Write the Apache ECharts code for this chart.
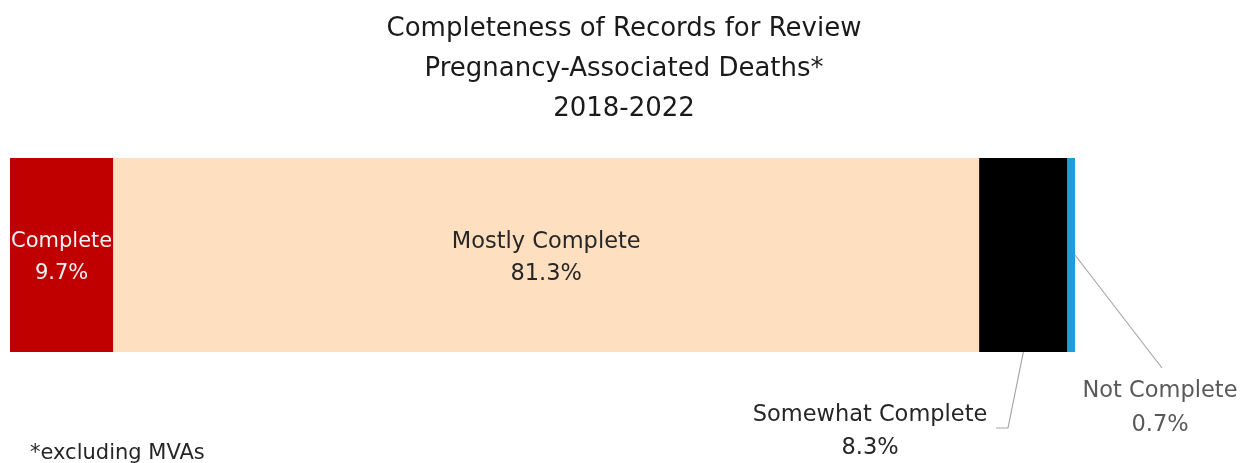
<!DOCTYPE html>
<html>
<head>
<meta charset="utf-8">
<script src="https://cdn.jsdelivr.net/npm/echarts@6/dist/echarts.min.js"></script>
<style>
	html, body { margin: 0; padding: 0; background: #fff; }
	#chart { width: 1248px; height: 463px; }
</style>
</head>
<body>
<div id="chart"></div>
<script>
	// data
	const titleLines = ['Completeness of Records for Review', 'Pregnancy-Associated Deaths*', '2018-2022'];
	const categories = ['Complete', 'Mostly Complete', 'Somewhat Complete', 'Not Complete'];
	const percents = [9.7, 81.3, 8.3, 0.7];
	const footnote = '*excluding MVAs';

	const FONT = '"DejaVu Sans", sans-serif';
	const fillColors = ['#C00000', '#FEDFC0', '#000000', '#1A9FDB'];
	const labelColors = ['#F2F2F2', '#262626', '#262626', '#595959'];
	const labelSizes = [21, 22.5, 22.5, 22.5];

	// labels that sit outside the bar; guide line ends near the label
	const outside = {
		2: { x: 870, y: 432, lineHeight: 33, ends: [[1008, 428], [996, 428]], from: r => [r.x + r.width / 2, r.y + r.height] },
		3: { x: 1160, y: 408, lineHeight: 34, ends: [[1162, 368]], from: r => [r.x + r.width, r.y + r.height / 2] }
	};

	const chart = echarts.init(document.getElementById('chart'));

	chart.setOption({
		animation: false,
		title: {
			text: titleLines.join('\n'),
			left: 'center',
			top: 4,
			textStyle: { fontFamily: FONT, fontSize: 26, fontWeight: 'normal', lineHeight: 40, color: '#1a1a1a' }
		},
		grid: { left: 10, right: 173, top: 158, bottom: 111 },
		xAxis: { type: 'value', min: 0, max: 100, show: false },
		yAxis: { type: 'category', data: ['Records'], show: false },
		series: categories.map((name, i) => {
			const out = outside[i];
			const s = {
				name: name,
				type: 'bar',
				stack: 'total',
				barWidth: '100%',
				data: [percents[i]],
				itemStyle: { color: fillColors[i] },
				label: {
					show: true,
					position: 'inside',
					offset: [0, 3],
					formatter: '{a}\n{c}%',
					fontFamily: FONT,
					fontSize: labelSizes[i],
					lineHeight: out ? out.lineHeight : 32,
					color: labelColors[i]
				}
			};
			if (out) {
				s.labelLayout = () => ({ x: out.x, y: out.y, align: 'center', verticalAlign: 'middle' });
			}
			return s;
		})
	});

	// guide lines from the bar segments to their outside labels
	const guides = [];
	Object.keys(outside).forEach(k => {
		const lay = chart.getModel().getSeriesByIndex(+k).getData().getItemLayout(0);
		const r = {
			x: Math.min(lay.x, lay.x + lay.width),
			y: Math.min(lay.y, lay.y + lay.height),
			width: Math.abs(lay.width),
			height: Math.abs(lay.height)
		};
		guides.push({
			type: 'polyline',
			silent: true,
			shape: { points: [outside[k].from(r)].concat(outside[k].ends) },
			style: { stroke: '#A6A6A6', lineWidth: 1.2, fill: null }
		});
	});
	chart.setOption({
		graphic: [{
			type: 'text',
			left: 30,
			top: 443,
			style: { text: footnote, font: '21px ' + FONT, fill: '#262626' }
		}].concat(guides)
	});
</script>
</body>
</html>
